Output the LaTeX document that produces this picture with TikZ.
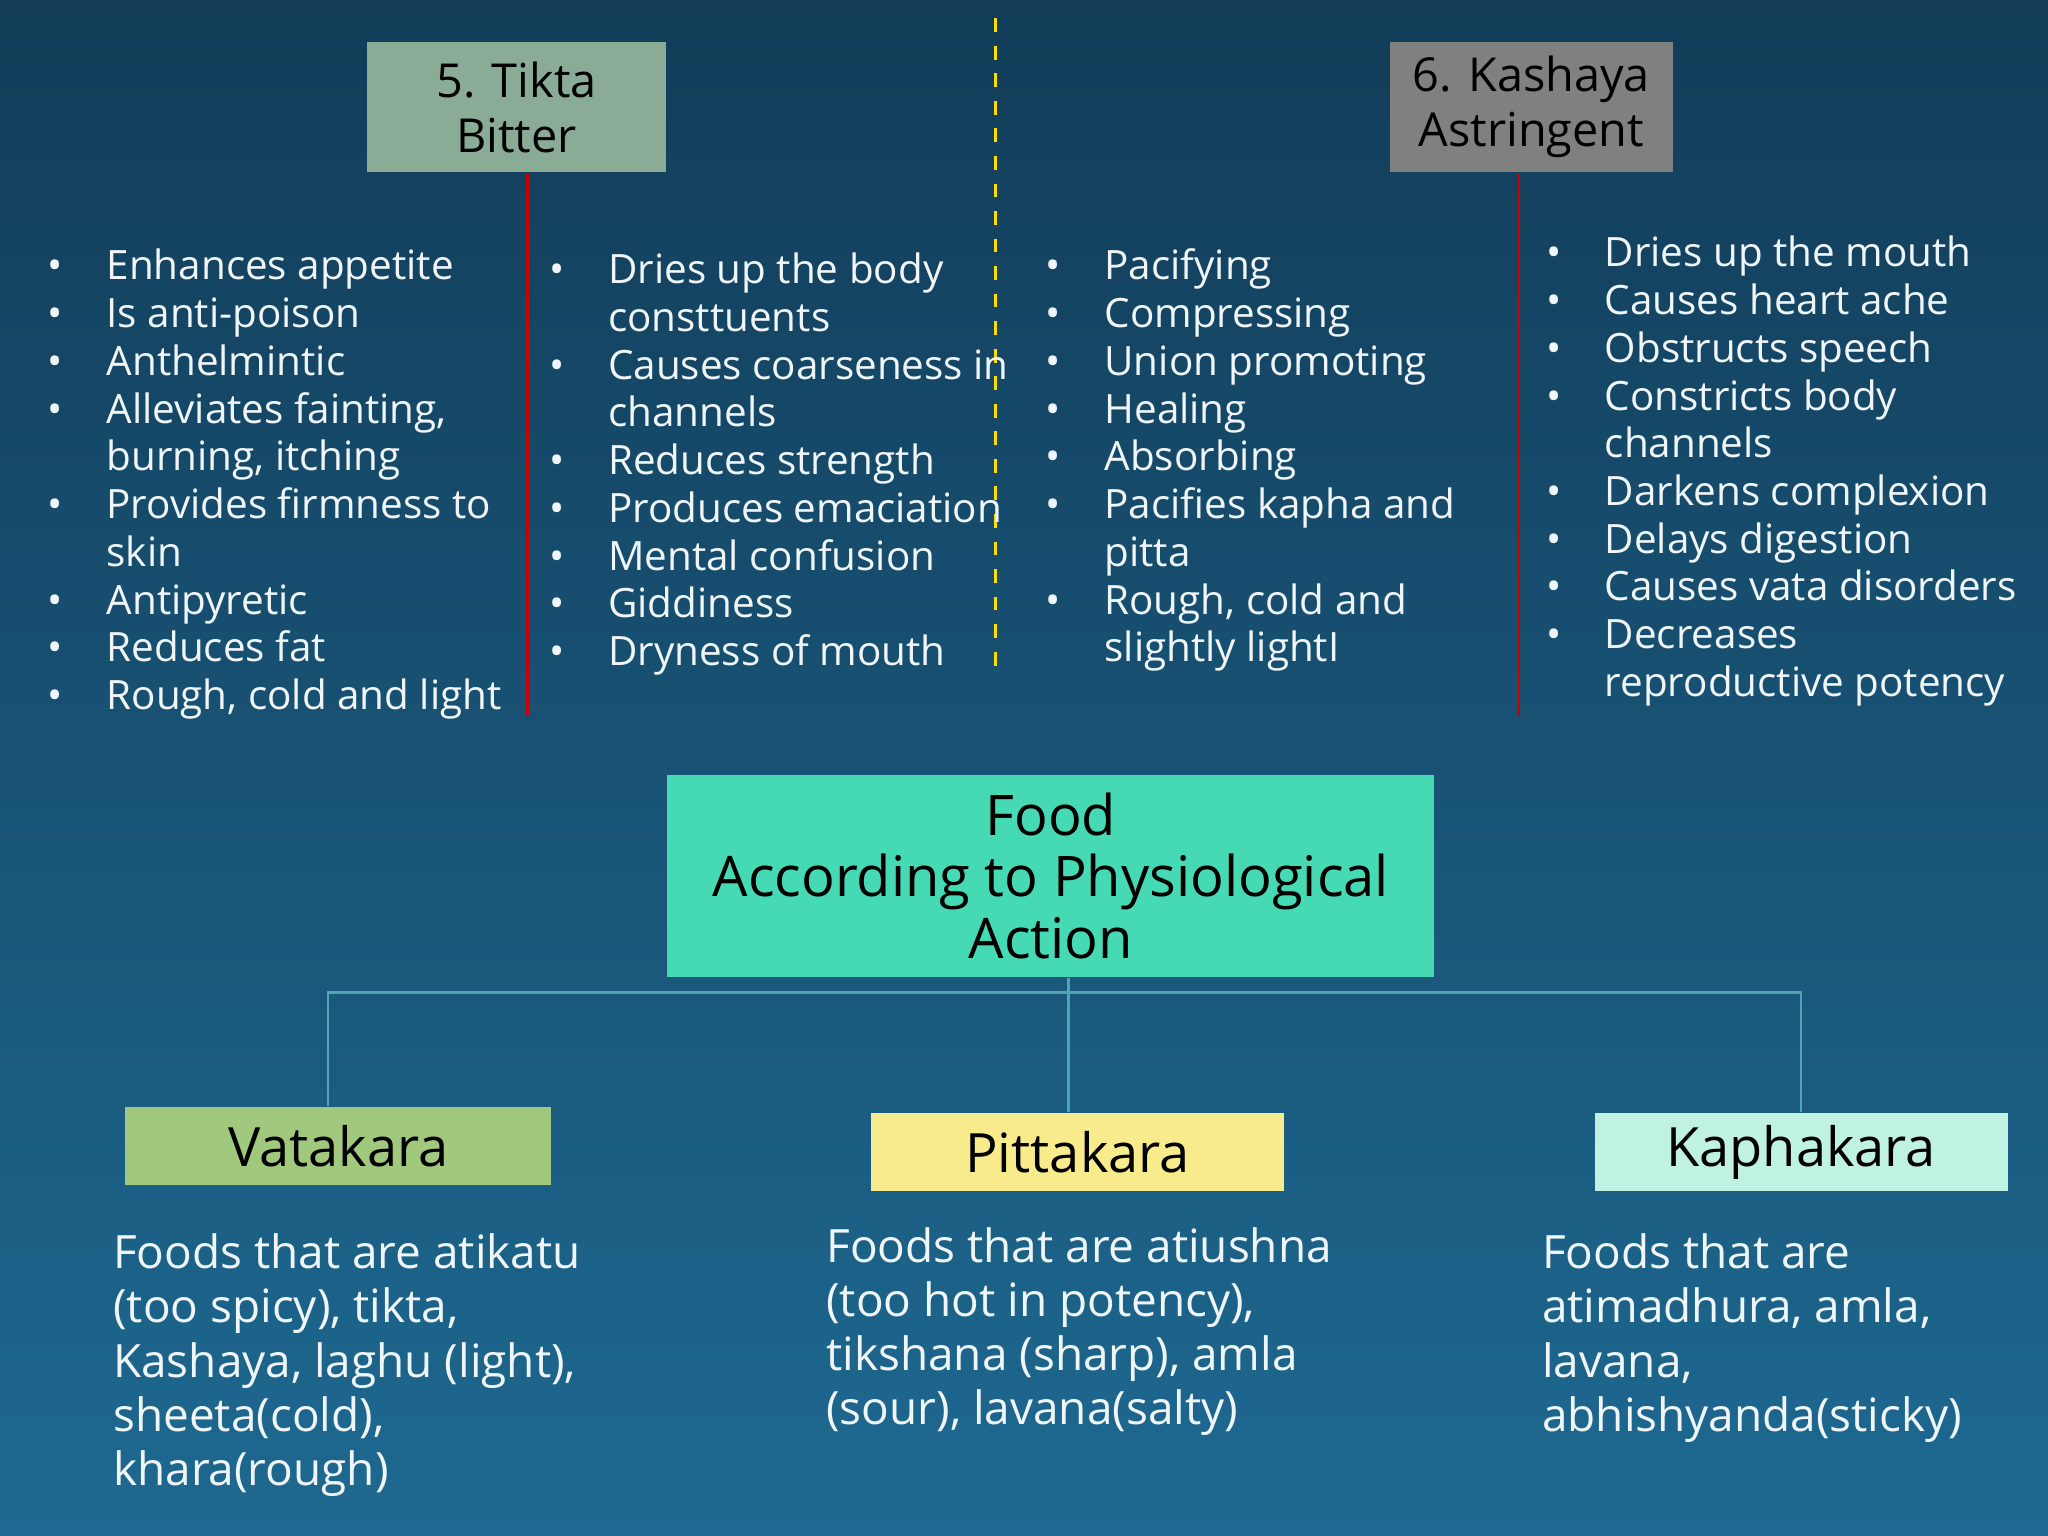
\documentclass[tikz,border=0pt]{standalone}
\usepackage{fontspec}
\setmainfont{Open Sans}
\usepackage{array}
\definecolor{bgtop}{RGB}{18,60,88}
\definecolor{bgbot}{RGB}{30,105,145}
\definecolor{tiktafill}{RGB}{138,171,150}
\definecolor{kashfill}{RGB}{128,128,128}
\definecolor{foodfill}{RGB}{69,217,180}
\definecolor{vatafill}{RGB}{160,201,126}
\definecolor{pittafill}{RGB}{248,235,140}
\definecolor{kaphafill}{RGB}{192,242,228}
\definecolor{linkcol}{RGB}{80,165,180}
\definecolor{txt}{RGB}{240,245,248}
\newcommand{\blist}[1]{{\fontsize{8.8pt}{10.4pt}\selectfont\begin{tabular}{@{}p{0.45cm}@{}l@{}}#1\end{tabular}}}
\tikzset{
  head/.style={draw=none,minimum width=#1,font=\fontsize{10.2pt}{12pt}\selectfont,align=center,text=black,inner sep=0pt},
  dosha/.style={minimum width=3.16cm,minimum height=0.6cm,font=\fontsize{11.8pt}{14pt}\selectfont,text=black,inner sep=0pt},
  list/.style={anchor=north west,text=txt,inner sep=0pt},
  para/.style={anchor=north west,text=txt,align=left,inner sep=0pt,font=\fontsize{10pt}{11.8pt}\selectfont},
  link/.style={linkcol,line width=0.5pt}
}
\begin{document}
\begin{tikzpicture}
\useasboundingbox (0,0) rectangle (15.68,11.76);
\shade[top color=bgtop,bottom color=bgbot] (0,0) rectangle (15.68,11.76);

% top headings
\node[head=2.29cm,fill=tiktafill,minimum height=0.99cm](tikta) at (3.955,10.94) {5. Tikta\\Bitter};
\node[head=2.17cm,fill=kashfill,minimum height=0.99cm](kashaya) at (11.725,10.94) {6. Kashaya\\Astringent};
\coordinate (tiktaend) at (4.04,6.28);
\coordinate (kashend) at (11.63,6.28);
\draw[red!80!black,line width=0.6pt] (tikta.south -| tiktaend) -- (tiktaend);
\draw[red!80!black,line width=0.6pt] (kashaya.south -| kashend) -- (kashend);
\coordinate (divtop) at (7.62,11.62);
\coordinate (divbot) at (7.62,6.56);
\draw[yellow!80!orange,dashed,line width=0.6pt] (divtop) -- (divbot);

% lists
\node[list](tlist) at (0.36,9.88) {\blist{
• & Enhances appetite\\
• & Is anti-poison\\
• & Anthelmintic\\
• & Alleviates fainting,\\
  & burning, itching\\
• & Provides firmness to\\
  & skin\\
• & Antipyretic\\
• & Reduces fat\\
• & Rough, cold and light}};
\node[list](tlist2) at (4.20,9.85) {\blist{
• & Dries up the body\\
  & consttuents\\
• & Causes coarseness in\\
  & channels\\
• & Reduces strength\\
• & Produces emaciation\\
• & Mental confusion\\
• & Giddiness\\
• & Dryness of mouth}};
\node[list](klist) at (8.00,9.88) {\blist{
• & Pacifying\\
• & Compressing\\
• & Union promoting\\
• & Healing\\
• & Absorbing\\
• & Pacifies kapha and\\
  & pitta\\
• & Rough, cold and\\
  & slightly lightI}};
\node[list](klist2) at (11.83,9.98) {\blist{
• & Dries up the mouth\\
• & Causes heart ache\\
• & Obstructs speech\\
• & Constricts body\\
  & channels\\
• & Darkens complexion\\
• & Delays digestion\\
• & Causes vata disorders\\
• & Decreases\\
  & reproductive potency}};

% food tree
\node[fill=foodfill,minimum width=5.87cm,minimum height=1.55cm,align=center,font=\fontsize{12.2pt}{13.4pt}\selectfont,text=black,inner sep=0pt](food) at (8.045,5.055) {Food\\According to Physiological\\Action};
\node[dosha,fill=vatafill,minimum width=3.26cm](vata) at (2.59,2.985) {Vatakara};
\node[dosha,fill=pittafill](pitta) at (8.25,2.94) {Pittakara};
\node[dosha,fill=kaphafill](kapha) at (13.79,2.94) {Kaphakara};
\coordinate (hub) at (8.18,4.16);
\draw[link] (food.south -| hub) -- (hub) -- (pitta.north -| hub);
\draw[link] (hub) -| (vata.north -| 2.51,0);
\draw[link] (hub) -| (kapha.north);

\node[para](vtext) at (0.86,2.32) {Foods that are atikatu\\(too spicy), tikta,\\Kashaya, laghu (light),\\sheeta(cold),\\khara(rough)};
\node[para](ptext) at (6.32,2.37) {Foods that are atiushna\\(too hot in potency),\\tikshana (sharp), amla\\(sour), lavana(salty)};
\node[para](ktext) at (11.80,2.32) {Foods that are\\atimadhura, amla,\\lavana,\\abhishyanda(sticky)};
\end{tikzpicture}
\end{document}
